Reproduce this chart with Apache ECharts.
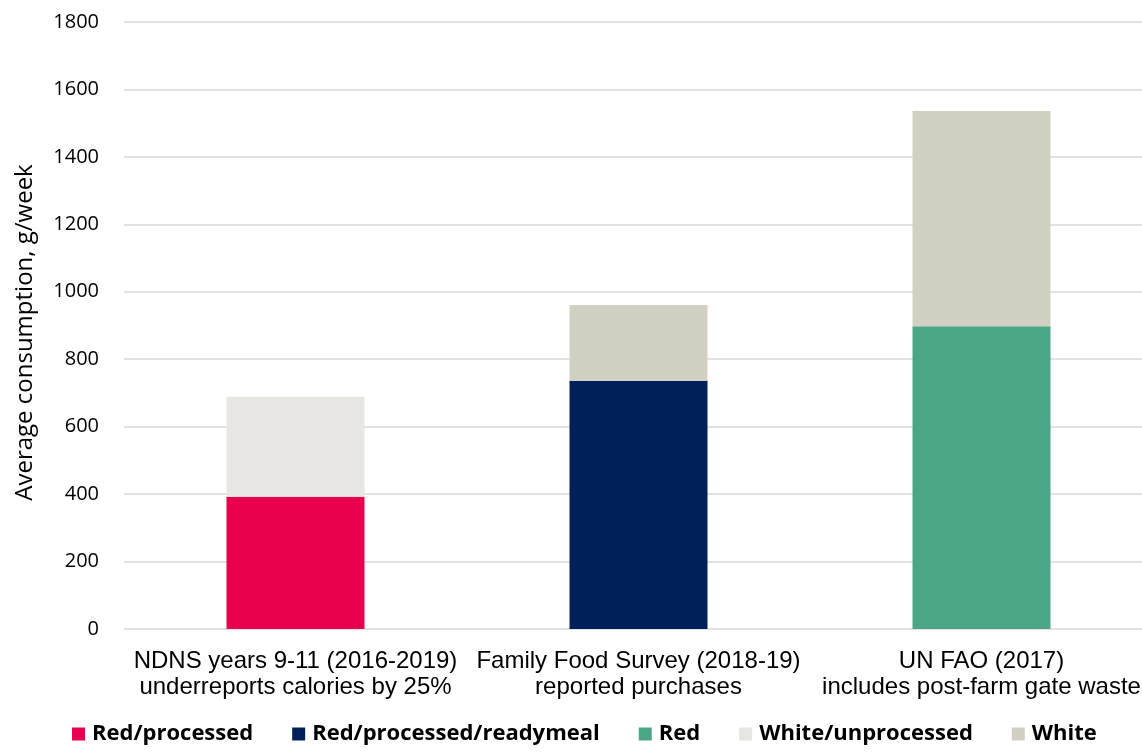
<!DOCTYPE html>
<html><head><meta charset="utf-8">
<script src="https://cdn.jsdelivr.net/npm/echarts@6/dist/echarts.min.js"></script>
<style>html,body{margin:0;padding:0;background:#fff;overflow:hidden;width:1142px;height:752px}#c{width:1153px;height:752px}</style>
</head><body><div id="c"></div>
<script>
const categories = ['NDNS years 9-11 (2016-2019)\nunderreports calories by 25%', 'Family Food Survey (2018-19)\nreported purchases', 'UN FAO (2017)\nincludes post-farm gate waste'];
const seriesNames = ['Red/processed', 'Red/processed/readymeal', 'Red', 'White/unprocessed', 'White'];
const redProcessed = [392, null, null];
const redProcessedReadymeal = [null, 736, null];
const red = [null, null, 898];
const whiteUnprocessed = [297, null, null];
const white = [null, 225, 638];
const yTicks = [0, 200, 400, 600, 800, 1000, 1200, 1400, 1600, 1800];
const colors = ['#E8004C', '#00205B', '#4CA685', '#E7E6E2', '#D2D0C2'];
const seriesData = [redProcessed, redProcessedReadymeal, red, whiteUnprocessed, white];

const chart = echarts.init(document.getElementById('c'), null, {renderer: 'canvas'});
chart.setOption({
  animation: false,
  grid: {left: 124, right: 0, top: 22, bottom: 123, containLabel: false},
  legend: {
    bottom: 2, left: 67,
    itemWidth: 13, itemHeight: 13, itemGap: 39,
    icon: 'rect',
    textStyle: {fontFamily: 'Open Sans', fontWeight: 'bold', fontSize: 22, color: '#000', padding: [0,0,0,2]},
    data: seriesNames
  },
  xAxis: {
    type: 'category', data: categories,
    axisLine: {show: false}, axisTick: {show: false},
    axisLabel: {interval: 0, fontFamily: 'Liberation Sans', fontSize: 24, color: '#000', lineHeight: 26, margin: 19}
  },
  yAxis: {
    type: 'value', min: 0, max: 1800, interval: 200,
    name: 'Average consumption, g/week', nameLocation: 'middle', nameGap: 87,
    nameTextStyle: {fontFamily: 'Open Sans', fontSize: 24, color: '#000', padding: [0, 14, 0, 0]},
    axisLine: {show: false}, axisTick: {show: false},
    splitLine: {lineStyle: {color: '#D9D9D9', width: 1.5}},
    axisLabel: {fontFamily: 'Open Sans', fontSize: 20, color: '#000', margin: 25,
      formatter: v => yTicks.includes(v) ? String(v) : ''}
  },
  series: seriesData.map((d, i) => ({
    name: seriesNames[i], type: 'bar', stack: 'total', data: d,
    barWidth: 138, itemStyle: {color: colors[i]}
  }))
});
</script></body></html>
